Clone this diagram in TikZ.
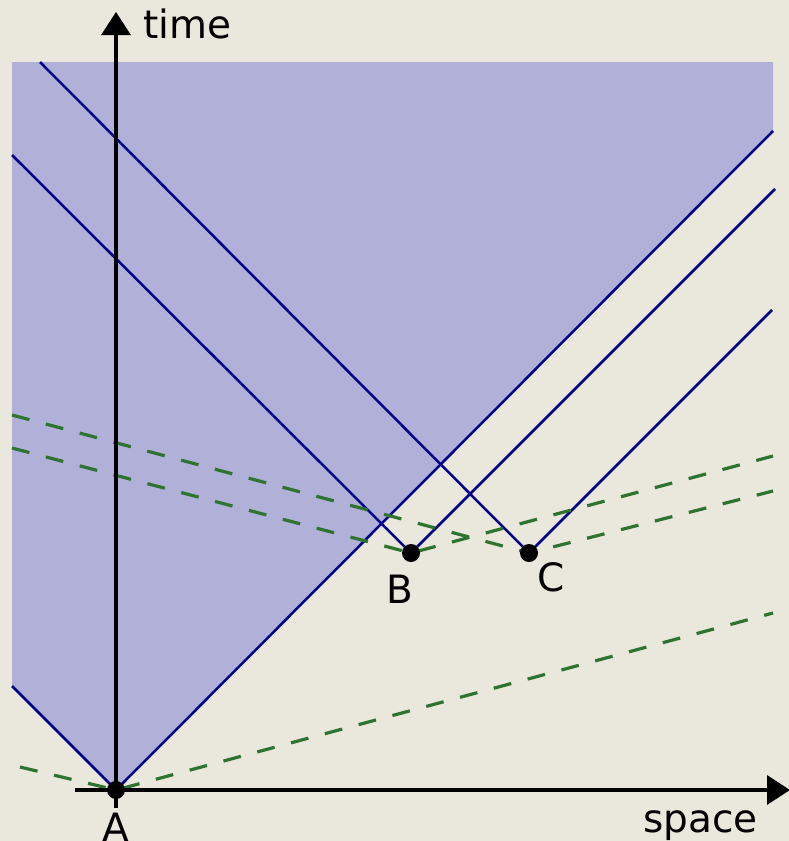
\documentclass[tikz,border=0pt]{standalone}
\usepackage{fontspec}
\setmainfont{DejaVu Sans}
\usetikzlibrary{arrows.meta}
\definecolor{bgcol}{HTML}{EAE7DC}
\definecolor{conecol}{HTML}{B0B0D8}
\definecolor{wlcol}{HTML}{000088}
\definecolor{simcol}{HTML}{2E7430}
\begin{document}
\begin{tikzpicture}[x=1pt,y=-1pt,
  worldline/.style={wlcol,line width=2.5pt},
  simline/.style={simcol,line width=3.2pt,dash pattern=on 18pt off 17pt},
  axisline/.style={black,line width=3.3pt,-{Triangle[length=23pt,width=29pt]}},
  event/.style={circle,fill=black,inner sep=0pt,minimum size=18pt},
  lbl/.style={inner sep=0pt,font=\fontsize{39}{41}\selectfont}]
\fill[bgcol] (0,0) rectangle (789,841);
\useasboundingbox (0,0) rectangle (789,841);
% coordinates
\coordinate (pA) at (116,790);
\coordinate (pB) at (411,553);
\coordinate (pC) at (529,553);
% light cone region
\fill[conecol] (12,62) -- (773,62) -- (773,131) -- (pA) -- (12,686) -- cycle;
% world lines / light rays
\coordinate (l1) at (12,686);
\coordinate (r1) at (773,131);
\coordinate (l2) at (12,155);
\coordinate (r2) at (775,189);
\coordinate (l3) at (40,62);
\coordinate (r3) at (772,310);
\draw[worldline] (l1) -- (pA) -- (r1);
\draw[worldline] (l2) -- (pB) -- (r2);
\draw[worldline] (l3) -- (pC) -- (r3);
% lines of simultaneity
\coordinate (sa1) at (20,767);
\coordinate (sa2) at (773,613);
\coordinate (sb1) at (12,448);
\coordinate (sb2) at (773,456);
\coordinate (sc1) at (12,415);
\coordinate (sc2) at (773,491);
\draw[simline] (sa1) -- (pA) -- (sa2);
\draw[simline] (sb1) -- (pB) -- (sb2);
\draw[simline] (sc1) -- (pC) -- (sc2);
% axes
\coordinate (t0) at (116,808);
\coordinate (t1) at (116,12);
\coordinate (s0) at (75,790);
\coordinate (s1) at (790,790);
\draw[axisline] (t0) -- (t1);
\draw[axisline] (s0) -- (s1);
% events
\node[event] (A) at (pA) {};
\node[event] (B) at (pB) {};
\node[event] (C) at (pC) {};
% labels
\node[lbl,anchor=base west] (timelbl) at (143,38) {time};
\node[lbl,anchor=base west] (spacelbl) at (643,832) {space};
\node[lbl,anchor=base] (Albl) at (116,841) {A};
\node[lbl,anchor=base] (Blbl) at (400,603) {B};
\node[lbl,anchor=base] (Clbl) at (551,591) {C};
\end{tikzpicture}
\end{document}
